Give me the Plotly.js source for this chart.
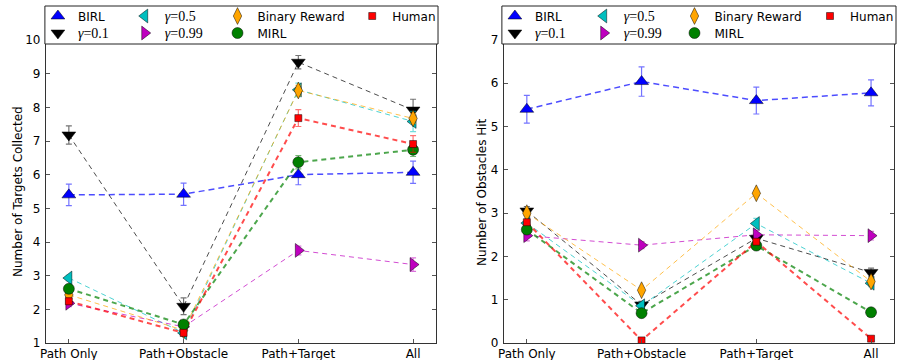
<!DOCTYPE html>
<html>
<head>
<meta charset="utf-8">
<script src="https://cdn.plot.ly/plotly-3.0.1.min.js"></script>
<style>html,body{margin:0;padding:0;background:#fff}#chart{width:899px;height:360px}</style>
</head>
<body>
<div id="chart"></div>
<script>
// ---- data ----
const categories = ["Path Only", "Path+Obstacle", "Path+Target", "All"];
const G = "<span style=\"font-family:'Liberation Serif';font-size:14px\"><i>γ</i>=";
const seriesNames = ["BIRL", G + "0.1</span>", G + "0.5</span>", G + "0.99</span>", "Binary Reward", "MIRL", "Human"];
const yTitles = ["Number of Targets Collected", "Number of Obstacles Hit"];

// Number of Targets Collected
const birlT  = [5.40, 5.42, 6.00, 6.07];
const birlTe = [0.32, 0.33, 0.30, 0.33];
const g01T   = [7.18, 2.09, 9.34, 7.92];
const g01Te  = [0.27, 0.25, 0.20, 0.32];
const g05T   = [2.93, 1.30, 8.52, 7.58];
const g05Te  = [0.08, 0.10, 0.20, 0.30];
const g099T  = [2.18, 1.48, 3.75, 3.33];
const g099Te = [0.10, 0.10, 0.13, 0.20];
const binT   = [2.43, 1.38, 8.50, 7.67];
const binTe  = [0.10, 0.10, 0.15, 0.15];
const mirlT  = [2.61, 1.55, 6.37, 6.74];
const mirlTe = [0.10, 0.10, 0.20, 0.20];
const humT   = [2.24, 1.30, 7.68, 6.91];
const humTe  = [0.10, 0.10, 0.25, 0.25];

// Number of Obstacles Hit
const birlO  = [5.40, 6.04, 5.60, 5.78];
const birlOe = [0.32, 0.34, 0.31, 0.30];
const g01O   = [3.05, 0.88, 2.42, 1.63];
const g01Oe  = [0.10, 0.08, 0.10, 0.10];
const g05O   = [2.77, 0.86, 2.76, 1.38];
const g05Oe  = [0.10, 0.08, 0.12, 0.08];
const g099O  = [2.48, 2.26, 2.50, 2.48];
const g099Oe = [0.12, 0.08, 0.10, 0.10];
const binO   = [3.00, 1.22, 3.46, 1.42];
const binOe  = [0.06, 0.06, 0.06, 0.06];
const mirlO  = [2.62, 0.69, 2.25, 0.71];
const mirlOe = [0.06, 0.06, 0.06, 0.06];
const humO   = [2.79, 0.06, 2.34, 0.10];
const humOe  = [0.05, 0.05, 0.05, 0.05];

// ---- styles ----
const styles = [
  {c:"0,0,255",   sym:"triangle-up",    size:12, lw:1.5, dash:"6px,4px"},
  {c:"0,0,0",     sym:"triangle-down",  size:12, lw:1,   dash:"5px,4px"},
  {c:"0,191,191", sym:"triangle-left",  size:12, lw:1,   dash:"5px,4px"},
  {c:"191,0,191", sym:"triangle-right", size:12, lw:1,   dash:"5px,4px"},
  {c:"255,165,0", sym:"diamond-tall",   size:12, lw:1,   dash:"5px,4px"},
  {c:"0,128,0",   sym:"circle",         size:11, lw:2,   dash:"5px,4px"},
  {c:"255,0,0",   sym:"square",         size:7,  lw:2,   dash:"5px,4px"}
];
// legend grid slot (column, row) of each series, as in the reference
const legendCol = [0, 0, 1, 1, 2, 2, 3];
const legendRow = [0, 1, 0, 1, 0, 1, 0];
const colTextPxL = [80, 167, 260, 395];
const colTextPxR = [538, 627, 718, 854];
const rowPx = [16, 33];

const left  = [[birlT,birlTe],[g01T,g01Te],[g05T,g05Te],[g099T,g099Te],[binT,binTe],[mirlT,mirlTe],[humT,humTe]];
const right = [[birlO,birlOe],[g01O,g01Oe],[g05O,g05Oe],[g099O,g099Oe],[binO,binOe],[mirlO,mirlOe],[humO,humOe]];

const traces = [];
const legendDefs = {};
let legendCount = 0;
function addPanel(data, xa, ya, colText) {
  data.forEach((d, i) => {
    const s = styles[i];
    traces.push({
      x: categories, y: d[0], xaxis: xa, yaxis: ya, type: "scatter", mode: "lines",
      line: {color: "rgba(" + s.c + ",0.7)", width: s.lw, dash: s.dash},
      showlegend: false, hoverinfo: "skip"
    });
  });
  data.forEach((d, i) => {
    const s = styles[i];
    legendCount++;
    const key = legendCount === 1 ? "legend" : "legend" + legendCount;
    legendDefs[key] = {
      x: (colText[legendCol[i]] - 42) / 899, xanchor: "left",
      y: 1 - rowPx[legendRow[i]] / 360, yanchor: "middle",
      orientation: "v", bgcolor: "rgba(0,0,0,0)", borderwidth: 0,
      font: {family: "DejaVu Sans", size: 12, color: "#000"}, itemwidth: 30
    };
    traces.push({
      x: categories, y: d[0], xaxis: xa, yaxis: ya, type: "scatter", mode: "markers",
      name: seriesNames[i], legend: key,
      marker: {symbol: s.sym, size: s.size, color: "rgb(" + s.c + ")", line: {color: "rgba(0,0,0,0.8)", width: 0.6}},
      error_y: {type: "data", array: d[1], visible: true, color: "rgba(" + s.c + ",0.55)", thickness: 1.2, width: 3},
      showlegend: true
    });
  });
}
addPanel(left, "x", "y", colTextPxL);
addPanel(right, "x2", "y2", colTextPxR);

const axisFont = {family: "DejaVu Sans", size: 12, color: "#000"};
function xax(domain, anchor) {
  return {domain: domain, anchor: anchor, type: "category", range: [-0.2, 3.2],
    showline: true, linecolor: "#333", linewidth: 1, mirror: "ticks",
    ticks: "inside", ticklen: 4, tickcolor: "#555", showgrid: false, zeroline: false,
    tickfont: axisFont};
}
function yax(domain, anchor, range) {
  return {domain: domain, anchor: anchor, range: range, dtick: 1,
    showline: true, linecolor: "#333", linewidth: 1, mirror: "ticks",
    ticks: "inside", ticklen: 4, tickcolor: "#555", showgrid: false, zeroline: false,
    tickfont: axisFont, ticklabelstandoff: 2};
}
const yDom = [17/360, 320/360];

const layout = Object.assign({
  width: 899, height: 360,
  margin: {l: 0, r: 0, t: 0, b: 0},
  paper_bgcolor: "#fff", plot_bgcolor: "#fff",
  font: {family: "DejaVu Sans", size: 12, color: "#000"},
  xaxis: xax([46/899, 437/899], "y"),
  yaxis: yax(yDom, "x", [1, 10]),
  xaxis2: xax([505/899, 896/899], "y2"),
  yaxis2: yax(yDom, "x2", [0, 7]),
  annotations: [
    {text: yTitles[0], xref: "paper", yref: "paper", x: 18/899, y: 1 - 191/360, textangle: -90,
     showarrow: false, font: axisFont, xanchor: "center", yanchor: "middle"},
    {text: yTitles[1], xref: "paper", yref: "paper", x: 483/899, y: 1 - 192/360, textangle: -90,
     showarrow: false, font: axisFont, xanchor: "center", yanchor: "middle"}
  ],
  shapes: [
    {type: "rect", xref: "paper", yref: "paper", x0: 45/899, x1: 439/899, y0: 1 - 44/360, y1: 1 - 6/360,
     line: {color: "#222", width: 1}, fillcolor: "#fff", layer: "above"},
    {type: "rect", xref: "paper", yref: "paper", x0: 503/899, x1: 898/899, y0: 1 - 44/360, y1: 1 - 6/360,
     line: {color: "#222", width: 1}, fillcolor: "#fff", layer: "above"}
  ],
  showlegend: true
}, legendDefs);

Plotly.newPlot("chart", traces, layout, {staticPlot: true, displayModeBar: false});
</script>
</body>
</html>
